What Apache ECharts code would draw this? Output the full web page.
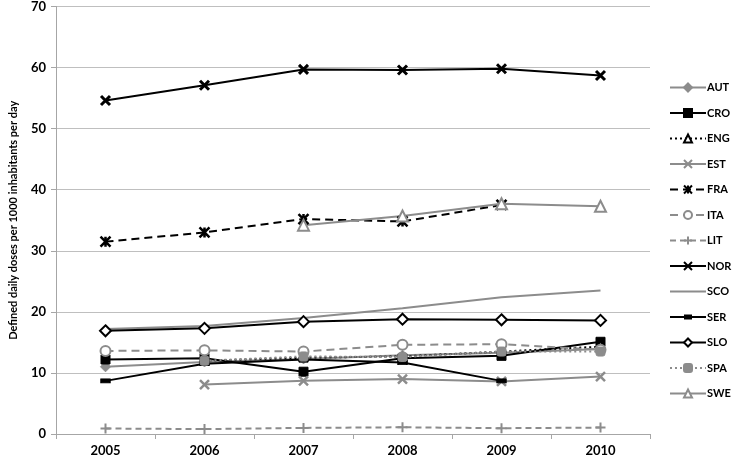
<!DOCTYPE html>
<html><head><meta charset="utf-8">
<script src="https://cdn.jsdelivr.net/npm/echarts@6/dist/echarts.min.js"></script>
<style>html,body{margin:0;padding:0;background:#fff}#c{width:733px;height:460px}</style>
</head><body><div id="c"></div>
<script>
const years = ['2005','2006','2007','2008','2009','2010'];
const AUT = [11.0, 11.8, 12.3, 12.9, 13.3, 13.9];
const CRO = [12.2, 12.4, 10.2, 12.4, 12.8, 15.1];
const ENG = [null, 12.0, 12.5, 12.7, 13.5, 14.3];
const EST = [null, 8.1, 8.7, 9.0, 8.6, 9.4];
const FRA = [31.5, 33.0, 35.2, 34.8, 37.5, null];
const ITA = [13.6, 13.7, 13.5, 14.6, 14.7, 13.8];
const LIT = [0.9, 0.8, 1.0, 1.1, 0.95, 1.05];
const NOR = [54.6, 57.1, 59.7, 59.6, 59.8, 58.7];
const SCO = [17.2, 17.7, 19.0, 20.6, 22.4, 23.5];
const SER = [8.7, 11.5, 12.2, 11.7, 8.7, null];
const SLO = [16.9, 17.3, 18.4, 18.8, 18.7, 18.6];
const SPA = [null, 12.0, 12.7, 12.6, 13.5, 13.5];
const SWE = [null, null, 34.2, 35.7, 37.7, 37.3];
const yTicks = [0,10,20,30,40,50,60,70];

const BLACK = '#000000', GRAY = '#8c8c8c';
const XSYM = 'path://M0,0L10,10M10,0L0,10';
const STAR = 'path://M0,0L10,10M10,0L0,10M5,0L5,10';
const PLUS = 'path://M5,0L5,10M0,5L10,5';
const FONT = 'Lato';

function s(name, data, color, lineType, symbol, size, fill, bw){
  return {
    name, type:'line', data, connectNulls:false,
    symbol, symbolSize:size, showSymbol: symbol !== 'none',
    lineStyle:{color, width:2, type:lineType},
    itemStyle:{color: fill, borderColor: color, borderWidth: bw},
    emphasis:{disabled:true}, animation:false, z: 2
  };
}
const series = [
  s('AUT', AUT, GRAY, 'solid', 'diamond', 10, GRAY, 1),
  s('CRO', CRO, BLACK, 'solid', 'rect', 9, BLACK, 1),
  s('ENG', ENG, BLACK, [2,3], 'triangle', 9, '#fff', 1),
  s('EST', EST, GRAY, 'solid', XSYM, 9, GRAY, 2.5),
  s('FRA', FRA, BLACK, [8,5], STAR, 10, BLACK, 2.5),
  s('ITA', ITA, GRAY, [8,5], 'circle', 10, '#fff', 2),
  s('LIT', LIT, GRAY, [6,4], PLUS, 10, GRAY, 2),
  s('NOR', NOR, BLACK, 'solid', XSYM, 9, BLACK, 3),
  s('SCO', SCO, GRAY, 'solid', 'none', 1, GRAY, 0),
  s('SER', SER, BLACK, 'solid', 'rect', [9,4], BLACK, 1),
  s('SLO', SLO, BLACK, 'solid', 'diamond', 11, '#fff', 2),
  s('SPA', SPA, GRAY, [2,3], 'roundRect', 9, GRAY, 1),
  s('SWE', SWE, GRAY, 'solid', 'triangle', 11, '#fff', 2)
];

const legendData = series.map(x => {
  if (x.name === 'SCO') return {name:'SCO', icon:'path://M0,0L36,0L36,2L0,2Z', itemStyle:{color:GRAY, borderWidth:0}};
  if (x.name === 'SER') return {name:'SER', icon:'path://M0,4L36,4L36,6L0,6ZM14,2.5L22,2.5L22,7.5L14,7.5Z', itemStyle:{color:BLACK, borderWidth:0}};
  return x.name;
});

const chart = echarts.init(document.getElementById('c'));
chart.setOption({
  backgroundColor:'#fff',
  animation:false,
  grid:{left:50, right:83, top:6, bottom:26, containLabel:false},
  legend:{
    orient:'vertical', left:664, top:77,
    itemWidth:36, itemHeight:10, itemGap:14.5,
    textStyle:{fontFamily:FONT, fontWeight:'bold', fontSize:11, color:'#000', padding:[0,0,0,-4]},
    data: legendData
  },
  xAxis:{
    type:'category', data:years, boundaryGap:true,
    axisLine:{lineStyle:{color:'#a6a6a6', width:1}},
    axisTick:{show:true, alignWithLabel:false, length:5, lineStyle:{color:'#a6a6a6'}},
    axisLabel:{fontFamily:FONT, fontWeight:'bold', fontSize:13, color:'#000', margin:10},
    splitLine:{show:false}
  },
  yAxis:{
    type:'value', min:0, max:70, interval:10,
    name:'Defined daily doses per 1000 inhabitants per day',
    nameLocation:'middle', nameGap:37, nameRotate:90,
    nameTextStyle:{fontFamily:FONT, fontWeight:'bold', fontSize:11, color:'#000'},
    axisLine:{show:true, lineStyle:{color:'#a6a6a6', width:1}},
    axisTick:{show:true, length:5, lineStyle:{color:'#a6a6a6'}},
    axisLabel:{fontFamily:FONT, fontWeight:'bold', fontSize:13, color:'#000', margin:10,
      formatter: v => yTicks.includes(v) ? String(v) : ''},
    splitLine:{show:true, lineStyle:{color:'#bfbfbf', width:1}}
  },
  series
});
</script></body></html>
